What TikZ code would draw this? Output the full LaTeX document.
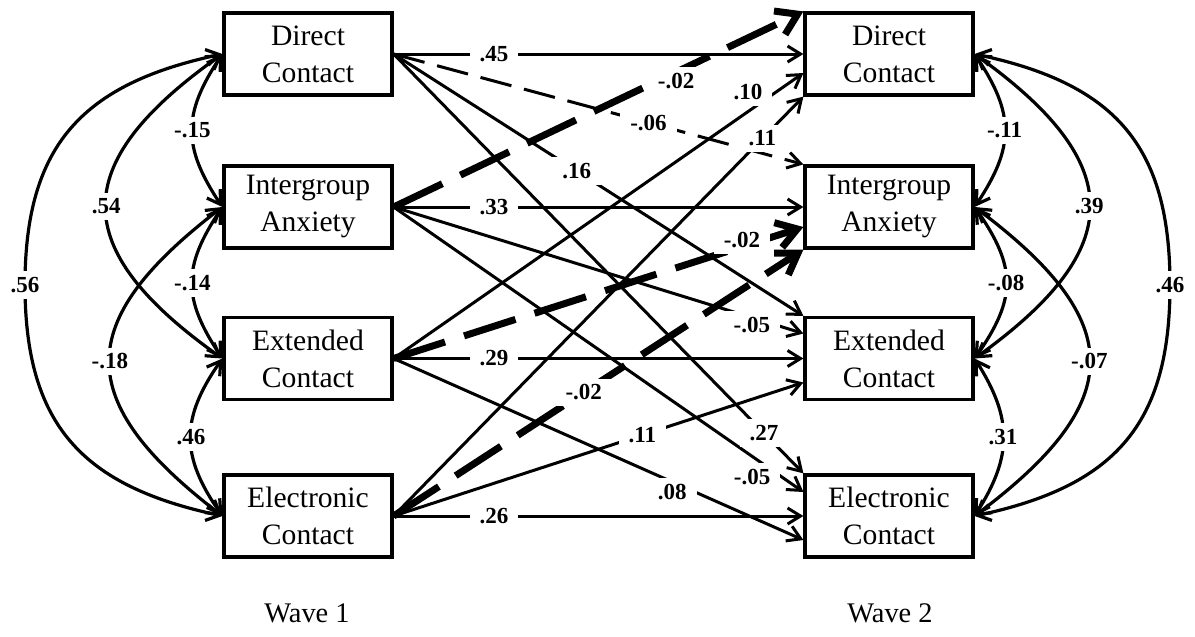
\documentclass[tikz,border=0pt]{standalone}
\usepackage{fontspec}
\setmainfont{Liberation Serif}
\usetikzlibrary{arrows.meta,calc}
\begin{document}
\begin{tikzpicture}[x=0.5pt,y=-0.5pt,
  box/.style={draw,line width=1.6pt,minimum width=84pt,minimum height=41pt,inner sep=0pt,align=center,font=\fontsize{14.8}{18.5}\selectfont},
  reg/.style={line width=1.5pt,-{Straight Barb[length=6.5pt,width=8pt]}},
  dashline/.style={reg,dash pattern=on 16pt off 6.5pt},
  thickdash/.style={line width=3.5pt,dash pattern=on 27pt off 10pt,-{Straight Barb[length=10pt,width=13pt]}},
  cov/.style={line width=1.6pt,{Straight Barb[length=6.5pt,width=8pt]}-{Straight Barb[length=6.5pt,width=8pt]}},
  lbl/.style={font=\bfseries\fontsize{11.5}{13}\selectfont,fill=white,inner xsep=5pt,inner ysep=3pt},
  wave/.style={font=\fontsize{14.2}{17}\selectfont}
]
\useasboundingbox (0,0) rectangle (1195,637);

% boxes
\node[box] (dc1) at (308,54) {Direct\\Contact};
\node[box] (ia1) at (308,207) {Intergroup\\Anxiety};
\node[box] (ec1) at (308,358.5) {Extended\\Contact};
\node[box] (el1) at (308,516) {Electronic\\Contact};
\node[box] (dc2) at (889,54) {Direct\\Contact};
\node[box] (ia2) at (889,207) {Intergroup\\Anxiety};
\node[box] (ec2) at (889,358.5) {Extended\\Contact};
\node[box] (el2) at (889,516) {Electronic\\Contact};

\node[wave] (w1) at (307,613) {Wave 1};
\node[wave] (w2) at (890,613) {Wave 2};

% cross-lagged paths
\draw[reg] (dc1.east) -- (dc2.west) coordinate[pos=0.245] (l45);
\draw[dashline] (dc1.east) -- (ia2.north west) coordinate[pos=0.622] (l06);
\draw[reg] (dc1.east) -- (ec2.north west) coordinate[pos=0.447] (l16);
\draw[reg] (dc1.east) -- (el2.north west) coordinate[pos=0.904] (l27);

\draw[thickdash] (ia1.east) -- (dc2.north west) coordinate[pos=0.682] (l02a);
\draw[reg] (ia1.east) -- (ia2.west) coordinate[pos=0.245] (l33);
\draw[reg] (ia1.east) -- ($(ec2.west)+(0,-25)$) coordinate[pos=0.879] (l05a);
\draw[reg] (ia1.east) -- ($(el2.west)+(0,-24)$) coordinate[pos=0.897] (l05b);

\draw[reg] (ec1.east) -- ($(dc2.west)+(0,19)$) coordinate[pos=0.887] (l10);
\draw[thickdash] (ec1.east) -- ($(ia2.west)+(0,20)$) coordinate[pos=0.855] (l02b);
\draw[reg] (ec1.east) -- (ec2.west) coordinate[pos=0.245] (l29);
\draw[reg] (ec1.east) -- ($(el2.west)+(0,24)$) coordinate[pos=0.69] (l08);

\draw[reg] (el1.east) -- (dc2.south west) coordinate[pos=0.9] (l11a);
\draw[thickdash] (el1.east) -- (ia2.south west) coordinate[pos=0.464] (l02c);
\draw[reg] (el1.east) -- ($(ec2.west)+(0,24)$) coordinate[pos=0.607] (l11b);
\draw[reg] (el1.east) -- (el2.west) coordinate[pos=0.245] (l26);

% covariances wave 1
\draw[cov] (dc1.west) .. controls +(-40,60) and +(-40,-60) .. (ia1.west) coordinate[pos=0.5] (c15);
\draw[cov] (ia1.west) .. controls +(-40,60) and +(-40,-60) .. (ec1.west) coordinate[pos=0.5] (c14);
\draw[cov] (ec1.west) .. controls +(-42,60) and +(-42,-60) .. (el1.west) coordinate[pos=0.5] (c46);
\draw[cov] (dc1.west) .. controls +(-155,110) and +(-155,-110) .. (ec1.west) coordinate[pos=0.5] (c54);
\draw[cov] (ia1.west) .. controls +(-150,115) and +(-150,-115) .. (el1.west) coordinate[pos=0.5] (c18);
\draw[cov] (dc1.west) .. controls +(-140,30) and +(0,-140) .. (25,285) coordinate (c56) .. controls +(0,140) and +(-140,-30) .. (el1.west);

% covariances wave 2
\draw[cov] (dc2.east) .. controls +(40,60) and +(40,-60) .. (ia2.east) coordinate[pos=0.5] (c11);
\draw[cov] (ia2.east) .. controls +(42,60) and +(42,-60) .. (ec2.east) coordinate[pos=0.5] (c08);
\draw[cov] (ec2.east) .. controls +(38,60) and +(38,-60) .. (el2.east) coordinate[pos=0.5] (c31);
\draw[cov] (dc2.east) .. controls +(153,110) and +(153,-110) .. (ec2.east) coordinate[pos=0.5] (c39);
\draw[cov] (ia2.east) .. controls +(153,115) and +(153,-115) .. (el2.east) coordinate[pos=0.5] (c07);
\draw[cov] (dc2.east) .. controls +(140,30) and +(0,-140) .. (1170,285) coordinate (c46r) .. controls +(0,140) and +(140,-30) .. (el2.east);

% labels
\node[lbl] at (l45) {.45};
\node[lbl] at (l06) {-.06};
\node[lbl] at (l16) {.16};
\node[lbl] at (l27) {.27};
\node[lbl] at ($(l02a)+(3,7)$) {-.02};
\node[lbl] at (l33) {.33};
\node[lbl] at ($(l05a)+(-2,7)$) {-.05};
\node[lbl] at ($(l05b)+(-9,14)$) {-.05};
\node[lbl] at ($(l10)+(-9,-13)$) {.10};
\node[lbl] at ($(l02b)+(-2,-6)$) {-.02};
\node[lbl] at (l29) {.29};
\node[lbl] at ($(l08)+(-4,8)$) {.08};
\node[lbl] at (l11a) {.11};
\node[lbl] at (l02c) {-.02};
\node[lbl] at (l11b) {.11};
\node[lbl] at (l26) {.26};

\node[lbl] at (c15) {-.15};
\node[lbl] at (c14) {-.14};
\node[lbl] at (c46) {.46};
\node[lbl] at (c54) {.54};
\node[lbl] at (c18) {-.18};
\node[lbl] at (c56) {.56};
\node[lbl] at (c11) {-.11};
\node[lbl] at (c08) {-.08};
\node[lbl] at (c31) {.31};
\node[lbl] at (c39) {.39};
\node[lbl] at (c07) {-.07};
\node[lbl] at (c46r) {.46};
\end{tikzpicture}
\end{document}
